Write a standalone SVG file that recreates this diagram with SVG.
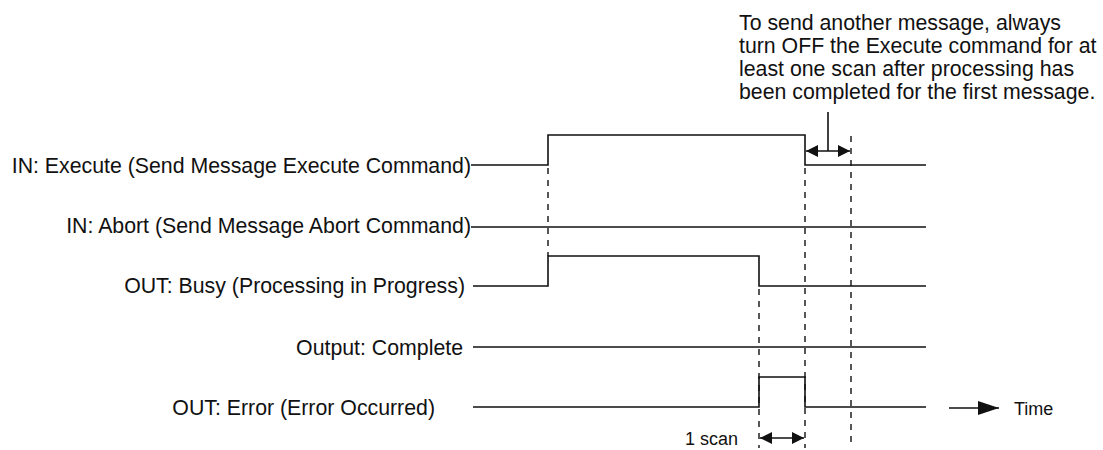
<svg xmlns="http://www.w3.org/2000/svg" width="1103" height="450" viewBox="0 0 1103 450">
<defs>
<style>
.lbl{font-family:"Liberation Sans",Arial,sans-serif;font-size:21.3px;fill:#111}
.sm{font-family:"Liberation Sans",Arial,sans-serif;font-size:18px;fill:#111}
.sig{fill:none;stroke:#111;stroke-width:1.6}
.dash{fill:none;stroke:#111;stroke-width:1.4;stroke-dasharray:6,6}
.arr{fill:none;stroke:#111;stroke-width:1.6}
</style>
<marker id="ah" viewBox="0 0 12 12" refX="12" refY="6" markerWidth="12" markerHeight="12" markerUnits="userSpaceOnUse" orient="auto-start-reverse">
<path d="M0,0 L12,6 L0,12 Z" fill="#111"/>
</marker>
<marker id="ahBig" viewBox="0 0 21 14" refX="21" refY="7" markerWidth="21" markerHeight="14" markerUnits="userSpaceOnUse" orient="auto">
<path d="M0,0 L21,7 L0,14 Z" fill="#111"/>
</marker>
</defs>
<rect width="1103" height="450" fill="#fff"/>

<g id="execute">
<text class="lbl" x="471" y="173" text-anchor="end">IN: Execute (Send Message Execute Command)</text>
</g>
<g id="abort">
<text class="lbl" x="471" y="233" text-anchor="end">IN: Abort (Send Message Abort Command)</text>
</g>
<g id="busy">
<text class="lbl" x="465" y="293" text-anchor="end">OUT: Busy (Processing in Progress)</text>
</g>
<g id="complete">
<text class="lbl" x="463" y="355" text-anchor="end">Output: Complete</text>
</g>
<g id="error">
<text class="lbl" x="435" y="415" text-anchor="end">OUT: Error (Error Occurred)</text>
</g>
<g id="note">
<text class="lbl" x="739" y="30">To send another message, always</text>
<text class="lbl" x="739" y="53">turn OFF the Execute command for at</text>
<text class="lbl" x="739" y="76">least one scan after processing has</text>
<text class="lbl" x="739" y="99">been completed for the first message.</text>
</g>
<g id="scan-label">
<text class="sm" x="738" y="445" text-anchor="end">1 scan</text>
</g>
<g id="time">
<text class="sm" x="1014" y="415">Time</text>
</g>

<g id="connectors">
<polyline class="sig" points="471,165 548,165 548,135 805,135 805,165 926,165"/>
<polyline class="sig" points="471,227 926,227"/>
<polyline class="sig" points="473,286 548,286 548,256 759,256 759,286 926,286"/>
<polyline class="sig" points="473,347 926,347"/>
<polyline class="sig" points="473,407 759,407 759,377 805,377 805,407 926,407"/>
<line class="dash" x1="548" y1="168" x2="548" y2="256"/>
<line class="dash" x1="759" y1="289" x2="759" y2="448"/>
<line class="dash" x1="805" y1="168" x2="805" y2="448"/>
<line class="dash" x1="851" y1="136" x2="851" y2="448"/>
<line class="arr" x1="806" y1="151" x2="850" y2="151" marker-start="url(#ah)" marker-end="url(#ah)"/>
<line class="arr" x1="828" y1="112" x2="828" y2="151"/>
<line class="arr" x1="760" y1="438" x2="804" y2="438" marker-start="url(#ah)" marker-end="url(#ah)"/>
<line class="arr" x1="949" y1="408" x2="999" y2="408" stroke-width="2.2" marker-end="url(#ahBig)"/>
</g>
</svg>
